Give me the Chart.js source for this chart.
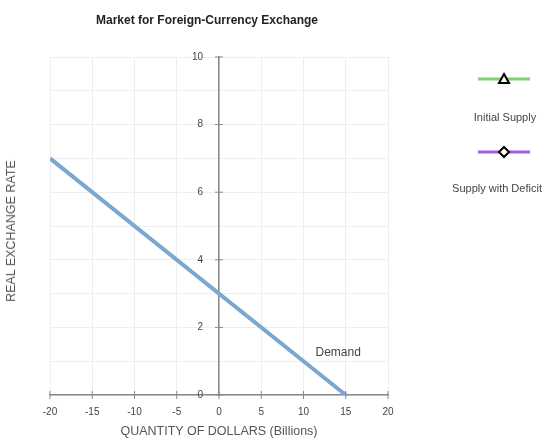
<!DOCTYPE html>
<html>
<head>
<meta charset="utf-8">
<script src="https://cdn.jsdelivr.net/npm/chart.js@4.4.1/dist/chart.umd.min.js"></script>
<style>
  body { margin: 0; background: #fff; font-family: "Liberation Sans", Arial, sans-serif; }
  #wrap { position: relative; width: 560px; height: 446px; }
  .txt { position: absolute; color: #444; font-size: 11px; white-space: nowrap; }
  #title { left: 207px; top: 13px; transform: translateX(-50%); font-size: 12px; font-weight: bold; color: #222; }
  #ytitle { left: 11px; top: 231px; transform: translate(-50%, -50%) rotate(-90deg); font-size: 12.5px; color: #555; }
  #xtitle { left: 219px; top: 424px; transform: translateX(-50%); font-size: 12.5px; color: #555; }
  .leg { position: absolute; }
  .legtxt { position: absolute; color: #444; font-size: 11px; white-space: nowrap; transform: translateX(-50%); }
</style>
</head>
<body>
<div id="wrap">
  <canvas id="chart" width="560" height="446"></canvas>
  <div class="txt" id="title">Market for Foreign-Currency Exchange</div>
  <div class="txt" id="ytitle">REAL EXCHANGE RATE</div>
  <div class="txt" id="xtitle">QUANTITY OF DOLLARS (Billions)</div>
  <div id="legend"></div>
</div>
<script>
// dados do gráfico
const demandQty = [-20, 15];
const demandRate = [7, 0];
const xTicks = [-20, -15, -10, -5, 0, 5, 10, 15, 20];
const yTicks = [0, 2, 4, 6, 8, 10];
const demandLabel = { text: 'Demand', x: 14.1, y: 1.25 };

// linhas de oferta (só aparecem na legenda)
const supplyNames = ['Initial Supply', 'Supply with Deficit'];
const supplyColors = ['#7fd36b', '#a35be0'];
const supplyMarkers = ['triangle', 'rectRot'];

const axisColor = '#888';
const fontFamily = '"Liberation Sans", Arial, sans-serif';

// tracinhos que cruzam os eixos, rótulos do eixo y e o texto "Demand"
const axisExtras = {
    id: 'axisExtras',
    afterDraw(chart) {
        const ctx = chart.ctx;
        const xs = chart.scales.x, ys = chart.scales.y;
        const x0 = xs.getPixelForValue(0), y0 = ys.getPixelForValue(0);
        ctx.save();
        ctx.strokeStyle = axisColor;
        ctx.lineWidth = 1;
        yTicks.forEach(v => {
            const py = ys.getPixelForValue(v);
            ctx.beginPath(); ctx.moveTo(x0 - 4, py); ctx.lineTo(x0 + 4, py); ctx.stroke();
        });
        xTicks.forEach(v => {
            const px = xs.getPixelForValue(v);
            ctx.beginPath(); ctx.moveTo(px, y0 - 4); ctx.lineTo(px, y0 + 4); ctx.stroke();
        });
        ctx.fillStyle = '#444';
        ctx.font = '10px ' + fontFamily;
        ctx.textAlign = 'right';
        ctx.textBaseline = 'middle';
        yTicks.forEach(v => {
            ctx.fillText(String(v), x0 - 16, ys.getPixelForValue(v));
        });
        ctx.font = '12px ' + fontFamily;
        ctx.textAlign = 'center';
        ctx.fillText(demandLabel.text, xs.getPixelForValue(demandLabel.x), ys.getPixelForValue(demandLabel.y));
        ctx.restore();
    }
};

const datasets = [{
    label: 'Demand',
    data: demandQty.map((q, i) => ({ x: q, y: demandRate[i] })),
    borderColor: '#7ba7d4',
    borderWidth: 4,
    pointRadius: 0,
    showLine: true
}];
supplyNames.forEach((name, i) => {
    datasets.push({
        label: name,
        data: [],
        borderColor: supplyColors[i],
        borderWidth: 3,
        pointStyle: supplyMarkers[i],
        showLine: true
    });
});

const chart = new Chart(document.getElementById('chart'), {
    type: 'scatter',
    data: { datasets },
    options: {
        responsive: false,
        animation: false,
        layout: { padding: { left: 50, right: 172, top: 57, bottom: 51 } },
        plugins: {
            legend: { display: false },
            tooltip: { enabled: false }
        },
        scales: {
            x: {
                type: 'linear',
                position: { y: 0 },
                min: -20, max: 20,
                afterBuildTicks: s => { s.ticks = xTicks.map(v => ({ value: v })); },
                grid: { color: '#eeeeee', drawTicks: false },
                border: { display: true, color: axisColor, width: 1.5 },
                ticks: {
                    padding: 11,
                    color: '#444',
                    maxRotation: 0,
                    font: { family: fontFamily, size: 10 }
                }
            },
            y: {
                type: 'linear',
                position: { x: 0 },
                min: 0, max: 10,
                ticks: { stepSize: 1, display: false },
                grid: { color: '#eeeeee', drawTicks: false },
                border: { display: true, color: axisColor, width: 1.5 }
            }
        }
    },
    plugins: [axisExtras]
});

// legenda feita à mão: linha + marcador em cima, nome embaixo
const legendDiv = document.getElementById('legend');
const legPos = [{ cx: 504, ly: 79, tx: 505, ty: 111 }, { cx: 504, ly: 152, tx: 497, ty: 182 }];
chart.data.datasets.slice(1).forEach((ds, i) => {
    const p = legPos[i];
    const c = document.createElement('canvas');
    c.width = 56; c.height = 16;
    c.className = 'leg';
    c.style.left = (p.cx - 28) + 'px';
    c.style.top = (p.ly - 8) + 'px';
    const g = c.getContext('2d');
    g.strokeStyle = ds.borderColor;
    g.lineWidth = 3;
    g.beginPath(); g.moveTo(2, 8); g.lineTo(54, 8); g.stroke();
    g.fillStyle = '#fff';
    g.strokeStyle = '#000';
    g.lineWidth = 2;
    g.beginPath();
    if (ds.pointStyle === 'triangle') {
        g.moveTo(28, 3); g.lineTo(33, 12); g.lineTo(23, 12); g.closePath();
    } else {
        g.moveTo(28, 3); g.lineTo(33, 8); g.lineTo(28, 13); g.lineTo(23, 8); g.closePath();
    }
    g.fill(); g.stroke();
    legendDiv.appendChild(c);
    const label = document.createElement('div');
    label.className = 'legtxt';
    label.style.left = p.tx + 'px';
    label.style.top = p.ty + 'px';
    label.textContent = ds.label;
    legendDiv.appendChild(label);
});
</script>
</body>
</html>
